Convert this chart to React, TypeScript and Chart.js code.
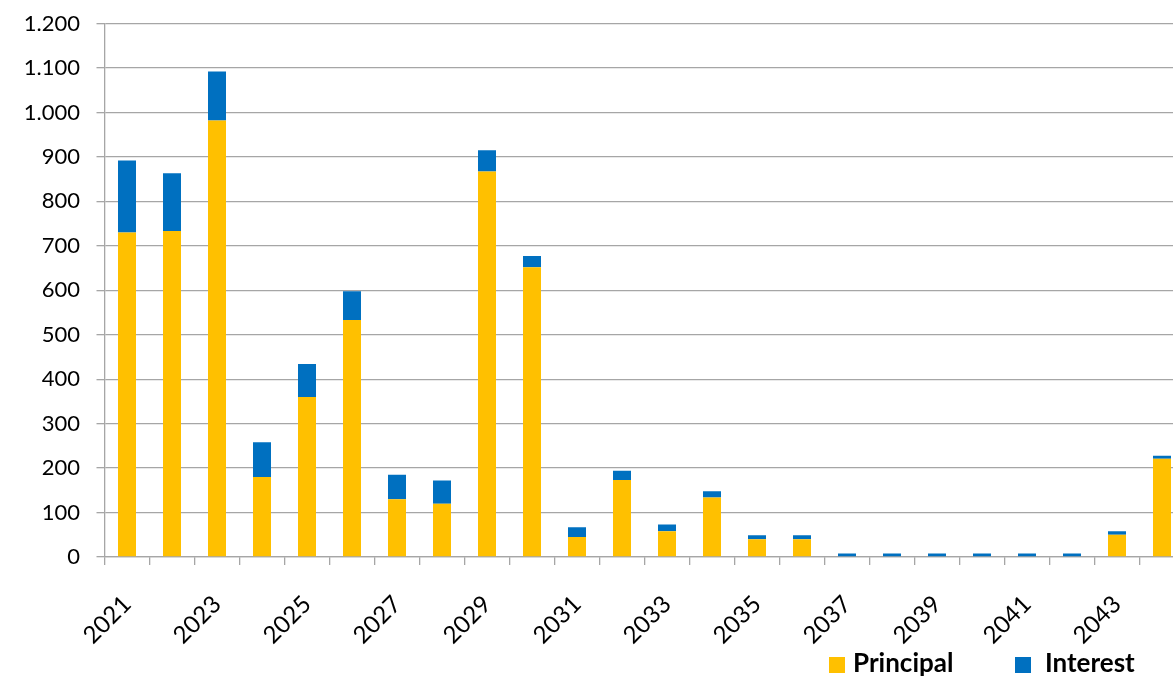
import React, { useEffect, useRef } from 'react';
import { Chart, registerables } from 'chart.js';

Chart.register(...registerables);

// ---- data ----
const years = [
  '2021', '2022', '2023', '2024', '2025', '2026', '2027', '2028',
  '2029', '2030', '2031', '2032', '2033', '2034', '2035', '2036',
  '2037', '2038', '2039', '2040', '2041', '2042', '2043', '2044',
];
const principal = [730, 733, 982, 180, 360, 533, 130, 120, 867, 652, 45, 173, 58, 134, 40, 40, 0, 0, 0, 0, 0, 0, 50, 221];
const interest = [162, 130, 110, 78, 74, 65, 55, 52, 48, 25, 22, 21, 15, 14, 9, 9, 8, 8, 8, 8, 8, 8, 8, 7];
const seriesNames = ['Principal', 'Interest'];
const yMin = 0;
const yMax = 1200;
const yStep = 100;

// ---- styles ----
const principalColor = '#FFC000';
const interestColor = '#0070C0';
const gridColor = '#a6a6a6';
const fontFamily = 'Lato, "Noto Sans", sans-serif';

function fmtThousands(v: number): string {
  return String(v).replace(/\B(?=(\d{3})+(?!\d))/g, '.');
}

export default function App() {
  const canvasRef = useRef<HTMLCanvasElement | null>(null);

  useEffect(() => {
    const canvas = canvasRef.current;
    if (!canvas) return;
    const chart = new Chart(canvas, {
      type: 'bar',
      data: {
        labels: years,
        datasets: [
          {
            label: seriesNames[0],
            data: principal,
            backgroundColor: principalColor,
            categoryPercentage: 0.4,
            barPercentage: 1,
          },
          {
            label: seriesNames[1],
            data: interest,
            backgroundColor: interestColor,
            categoryPercentage: 0.4,
            barPercentage: 1,
          },
        ],
      },
      options: {
        animation: false,
        responsive: true,
        maintainAspectRatio: false,
        layout: { padding: { top: 23.5, right: 15.5, left: 0, bottom: 0 } },
        plugins: {
          legend: { display: false },
          tooltip: { enabled: false },
        },
        scales: {
          x: {
            stacked: true,
            grid: {
              display: true,
              drawOnChartArea: false,
              drawTicks: true,
              tickLength: 8,
              color: gridColor,
              lineWidth: 1.3,
              offset: true,
            },
            border: { display: true, color: gridColor, width: 1.3 },
            ticks: {
              autoSkip: false,
              maxRotation: 45,
              minRotation: 45,
              color: '#000',
              padding: 25,
              font: { family: fontFamily, size: 24 },
              callback: (_v: any, i: number) => (i % 2 === 0 ? years[i] : ''),
            },
            afterFit: (s: any) => {
              s.height = 119;
              s.paddingLeft = 0;
              s.paddingRight = 0;
            },
          },
          y: {
            stacked: true,
            min: yMin,
            max: yMax,
            grid: {
              color: gridColor,
              lineWidth: 1.3,
              drawTicks: true,
              tickLength: 8,
            },
            border: { display: true, color: gridColor, width: 1.3 },
            ticks: {
              stepSize: yStep,
              color: '#000',
              padding: 16.5,
              font: { family: fontFamily, size: 22 },
              callback: (v: any) => fmtThousands(Number(v)),
            },
            afterFit: (s: any) => {
              s.width = 104.5;
              s.paddingTop = 5;
              s.paddingBottom = 5;
            },
          },
        },
      },
    });
    return () => chart.destroy();
  }, []);

  const legendText: React.CSSProperties = {
    position: 'absolute',
    top: 647,
    height: 30,
    lineHeight: '30px',
    fontFamily,
    fontWeight: 700,
    fontSize: 26,
    color: '#000',
    whiteSpace: 'nowrap',
  };

  return (
    <div
      style={{
        position: 'fixed',
        left: 0,
        top: 0,
        width: 1173,
        height: 676,
        overflow: 'hidden',
        background: '#fff',
      }}
    >
      <div style={{ position: 'absolute', left: 0, top: 0, width: 1200, height: 676 }}>
        <canvas ref={canvasRef} />
      </div>
      <div style={{ position: 'absolute', left: 829, top: 657, width: 16, height: 16, background: principalColor }} />
      <div style={{ ...legendText, left: 853 }}>{seriesNames[0]}</div>
      <div style={{ position: 'absolute', left: 1015, top: 657, width: 16, height: 16, background: interestColor }} />
      <div style={{ ...legendText, left: 1045 }}>{seriesNames[1]}</div>
    </div>
  );
}
